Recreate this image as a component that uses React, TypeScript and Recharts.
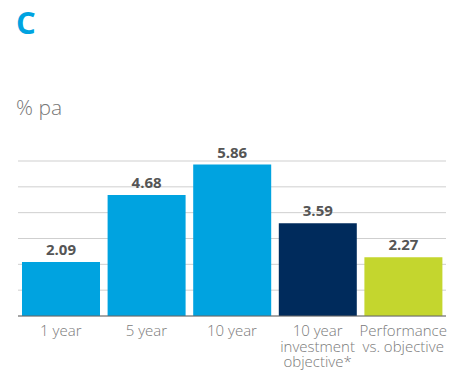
import { BarChart, Bar, XAxis, YAxis, CartesianGrid, Cell, LabelList } from "recharts";

const categories = ["1 year", "5 year", "10 year", "10 year\ninvestment\nobjective*", "Performance\nvs. objective"];
const returns = [2.09, 4.68, 5.86, 3.59, 2.27];
const barColors = ["#00a3e0", "#00a3e0", "#00a3e0", "#002b5c", "#c4d62e"];
const yTicks = [0, 1, 2, 3, 4, 5, 6];

const data = categories.map((name, i) => ({ name, value: returns[i], color: barColors[i] }));

function MultiLineTick({ x, y, payload }: any) {
  const lines = String(payload.value).split("\n");
  return (
    <text x={x} y={y} textAnchor="middle" fill="#7a7a7a" fontSize={15} fontWeight={300} fontFamily="'Open Sans', sans-serif">
      {lines.map((line, i) => (
        <tspan key={i} x={x} dy={i === 0 ? 12 : 15.7}>{line}</tspan>
      ))}
    </text>
  );
}

export default function App() {
  return (
    <div style={{ position: "absolute", left: 0, top: 0, width: 451, height: 375, background: "#fff", fontFamily: "'Open Sans', sans-serif" }}>
      <div style={{ position: "absolute", left: 16, top: 1, fontSize: 31, fontWeight: 700, color: "#00a3e0", fontFamily: "'Open Sans', sans-serif" }}>C</div>
      <div style={{ position: "absolute", left: 16, top: 93, fontSize: 21, fontWeight: 300, color: "#777" }}>% pa</div>
      <div style={{ position: "absolute", left: 0, top: 130 }}>
        <BarChart width={451} height={245} data={data} margin={{ top: 31, right: 5, left: 18, bottom: 0 }} barCategoryGap={4}>
          <CartesianGrid vertical={false} stroke="#cfcfcf" />
          <YAxis hide domain={[0, 6]} ticks={yTicks} />
          <XAxis dataKey="name" height={59} interval={0} tickLine={false} axisLine={{ stroke: "#666", strokeWidth: 1.2 }} tick={<MultiLineTick />} />
          <Bar dataKey="value" isAnimationActive={false}>
            {data.map((d, i) => (
              <Cell key={i} fill={d.color} />
            ))}
            <LabelList dataKey="value" position="top" offset={7} fill="#555" fontSize={15} fontWeight={700} fontFamily="'Open Sans', sans-serif" formatter={(v: any) => Number(v).toFixed(2)} />
          </Bar>
        </BarChart>
      </div>
    </div>
  );
}
